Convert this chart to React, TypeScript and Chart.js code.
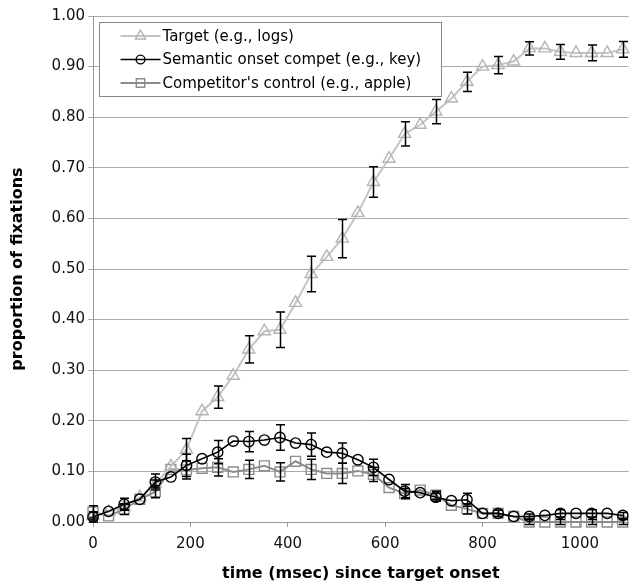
import { useEffect, useRef } from 'react';
import { Chart, registerables } from 'chart.js';
Chart.register(...registerables);

const FONT = 'DejaVu Sans';

const times = [0, 32, 64, 96, 128, 160, 192, 224, 256, 288, 320, 352, 384, 416, 448, 480, 512, 544, 576, 608, 640, 672, 704, 736, 768, 800, 832, 864, 896, 928, 960, 992, 1024, 1056, 1088];

const xTicks = [0, 200, 400, 600, 800, 1000];

const seriesLabels = ['Target (e.g., logs)', 'Semantic onset compet (e.g., key)', "Competitor's control (e.g., apple)"];

const target = [0.012, 0.020, 0.030, 0.049, 0.075, 0.110, 0.143, 0.219, 0.247, 0.289, 0.341, 0.377, 0.380, 0.433, 0.490, 0.524, 0.560, 0.611, 0.672, 0.718, 0.767, 0.785, 0.811, 0.837, 0.870, 0.900, 0.903, 0.910, 0.936, 0.936, 0.929, 0.927, 0.927, 0.927, 0.934];
const semantic = [0.010, 0.021, 0.035, 0.045, 0.079, 0.089, 0.112, 0.125, 0.138, 0.160, 0.159, 0.162, 0.167, 0.156, 0.153, 0.138, 0.136, 0.123, 0.108, 0.084, 0.061, 0.058, 0.049, 0.042, 0.044, 0.017, 0.017, 0.011, 0.011, 0.013, 0.017, 0.017, 0.017, 0.017, 0.013];
const control = [0.020, 0.012, 0.025, 0.045, 0.060, 0.104, 0.103, 0.106, 0.108, 0.099, 0.104, 0.111, 0.099, 0.120, 0.104, 0.096, 0.096, 0.101, 0.094, 0.068, 0.056, 0.063, 0.053, 0.033, 0.026, 0.017, 0.017, 0.011, 0, 0, 0, 0, 0, 0, 0];

// error half-widths (bars shown every other sample)
const targetErr = [0.008, null, 0.006, null, 0.008, null, 0.022, null, 0.022, null, 0.027, null, 0.035, null, 0.035, null, 0.038, null, 0.030, null, 0.024, null, 0.024, null, 0.019, null, 0.017, null, 0.013, null, 0.0145, null, 0.0155, null, 0.0155];
const semanticErr = [0.010, null, 0.012, null, 0.016, null, 0.022, null, 0.023, null, 0.020, null, 0.025, null, 0.023, null, 0.020, null, 0.016, null, 0.013, null, 0.008, null, 0.013, null, 0.006, null, 0.005, null, 0.007, null, 0.007, null, 0.006];
const controlErr = [0.012, null, 0.010, null, 0.012, null, 0.018, null, 0.017, null, 0.018, null, 0.018, null, 0.020, null, 0.020, null, 0.014, null, 0.010, null, 0.008, null, 0.010, null, 0.006, null, 0.005, null, 0.005, null, 0.005, null, 0.005];

const seriesValues = [target, semantic, control];
const seriesErrors = [targetErr, semanticErr, controlErr];
const lineColors = ['#c4c4c4', '#000000', '#8c8c8c'];
const markerColors = ['#b4b4b4', '#000000', '#8c8c8c'];
const markerStyles = ['triangle', 'circle', 'rect'];
const markerRadius = [7, 5.2, 7];
const drawOrder = [1, 0, 2];

function drawMarker(ctx: CanvasRenderingContext2D, style: string, x: number, y: number, r: number) {
  ctx.beginPath();
  if (style === 'circle') {
    ctx.arc(x, y, r, 0, Math.PI * 2);
  } else if (style === 'triangle') {
    for (let k = 0; k < 3; k++) {
      const a = k * (2 * Math.PI / 3);
      const px = x + Math.sin(a) * r;
      const py = y - Math.cos(a) * r;
      if (k === 0) ctx.moveTo(px, py); else ctx.lineTo(px, py);
    }
    ctx.closePath();
  } else {
    const s = Math.SQRT1_2 * r;
    ctx.rect(x - s, y - s, 2 * s, 2 * s);
  }
  ctx.stroke();
}

const errorBarPlugin = {
  id: 'errorBars',
  afterDatasetsDraw(chart: any) {
    const { ctx, scales } = chart;
    const xs = scales.x;
    const ys = scales.y;
    ctx.save();
    ctx.strokeStyle = '#000';
    ctx.lineWidth = 1.5;
    seriesValues.forEach((vals, si) => {
      const errs = seriesErrors[si];
      vals.forEach((v, i) => {
        const e = errs[i];
        if (e == null) return;
        const px = Math.round(xs.getPixelForValue(times[i])) + 0.5;
        const yTop = ys.getPixelForValue(v + e);
        const yBot = ys.getPixelForValue(v - e);
        ctx.beginPath();
        ctx.moveTo(px, yTop);
        ctx.lineTo(px, yBot);
        ctx.moveTo(px - 4.5, yTop);
        ctx.lineTo(px + 4.5, yTop);
        ctx.moveTo(px - 4.5, yBot);
        ctx.lineTo(px + 4.5, yBot);
        ctx.stroke();
      });
    });
    ctx.restore();
  },
};

const boxLegendPlugin = {
  id: 'boxLegend',
  afterDraw(chart: any) {
    const { ctx, chartArea } = chart;
    const bx = chartArea.left + 6.5;
    const by = chartArea.top + 6.5;
    const bw = 342;
    const bh = 74;
    ctx.save();
    ctx.fillStyle = '#fff';
    ctx.fillRect(bx, by, bw, bh);
    ctx.strokeStyle = '#888';
    ctx.lineWidth = 1;
    ctx.strokeRect(bx, by, bw, bh);
    ctx.font = `15px "${FONT}"`;
    ctx.textBaseline = 'middle';
    seriesLabels.forEach((label, i) => {
      const y = by + 13.5 + i * 23.5;
      ctx.strokeStyle = lineColors[i];
      ctx.lineWidth = i === 1 ? 1.6 : 2;
      ctx.beginPath();
      ctx.moveTo(bx + 21, y);
      ctx.lineTo(bx + 61, y);
      ctx.stroke();
      ctx.strokeStyle = markerColors[i];
      ctx.lineWidth = 1.4;
      drawMarker(ctx, markerStyles[i], bx + 41, y, markerRadius[i] * 0.85);
      ctx.fillStyle = '#000';
      ctx.fillText(label, bx + 63, y + 1);
    });
    ctx.restore();
  },
};

export default function App() {
  const ref = useRef<HTMLCanvasElement>(null);
  useEffect(() => {
    document.body.style.margin = '0';
    const canvas = ref.current!;
    const datasets = seriesValues.map((vals, i) => ({
      label: seriesLabels[i],
      data: vals.map((v, k) => ({ x: times[k], y: v })),
      borderColor: lineColors[i],
      borderWidth: i === 1 ? 1.6 : 2,
      pointStyle: markerStyles[i] as any,
      pointRadius: markerRadius[i],
      pointBorderColor: markerColors[i],
      pointBackgroundColor: 'rgba(0,0,0,0)',
      pointBorderWidth: 1.4,
      tension: 0,
      order: drawOrder[i],
      clip: false as any,
    }));
    const chart = new Chart(canvas, {
      type: 'line',
      data: { datasets },
      options: {
        responsive: false,
        animation: false,
        events: [],
        layout: { padding: { top: 16, right: 3, left: 0, bottom: 0 } },
        plugins: { legend: { display: false }, tooltip: { enabled: false } },
        scales: {
          x: {
            type: 'linear',
            min: 0,
            max: 1100,
            afterBuildTicks: (s: any) => {
              s.ticks = xTicks.map((v) => ({ value: v }));
            },
            ticks: {
              font: { family: FONT, size: 15 },
              color: '#111',
              padding: 8,
              maxRotation: 0,
              callback: (v: any) => String(v),
            },
            grid: { drawOnChartArea: false, drawTicks: true, tickLength: 5, color: '#999' },
            border: { color: '#999', width: 1 },
            title: {
              display: true,
              text: 'time (msec) since target onset',
              font: { family: FONT, size: 16, weight: 'bold' },
              color: '#000',
              padding: { top: 4, bottom: 3 },
            },
            afterFit: (s: any) => {
              s.height = 64;
            },
          },
          y: {
            min: 0,
            max: 1,
            ticks: {
              stepSize: 0.1,
              font: { family: FONT, size: 15 },
              color: '#111',
              padding: 3,
              callback: (v: any) => Number(v).toFixed(2),
            },
            grid: { color: '#aaa', tickLength: 5 },
            border: { color: '#999', width: 1 },
            title: {
              display: true,
              text: 'proportion of fixations',
              font: { family: FONT, size: 16, weight: 'bold' },
              color: '#000',
              padding: { top: 8, bottom: 4 },
            },
            afterFit: (s: any) => {
              s.width = 93;
            },
          },
        },
      },
      plugins: [errorBarPlugin, boxLegendPlugin],
    });
    return () => chart.destroy();
  }, []);
  return (
    <div style={{ width: 637, height: 586, position: 'relative' }}>
      <canvas ref={ref} width={637} height={586} style={{ display: 'block' }} />
    </div>
  );
}
